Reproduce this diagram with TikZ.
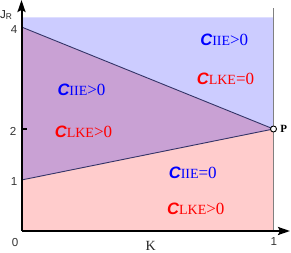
\documentclass[tikz,border=0pt]{standalone}
\usepackage{fontspec}
\setmainfont{Liberation Serif}
\newfontfamily\axisfont{Liberation Sans}
\usetikzlibrary{arrows.meta}
\definecolor{bluereg}{RGB}{204,204,255}
\definecolor{purpreg}{RGB}{201,161,212}
\definecolor{pinkreg}{RGB}{255,204,204}
\definecolor{bndline}{RGB}{51,51,102}
\definecolor{grayline}{RGB}{128,128,128}
\newcommand{\ccoef}[2]{{\axisfont\fontsize{16.5}{17}\selectfont\bfseries\itshape C}{\fontsize{14}{14}\selectfont #1}{\fontsize{17}{17}\selectfont #2}}
\tikzset{
  bnd/.style={draw=bndline, line width=0.9pt},
  axisline/.style={draw=black, line width=2pt, -{Stealth[length=12pt,width=8pt,inset=2pt]}},
  ticksty/.style={draw=black, line width=1.2pt},
  graysty/.style={draw=grayline, line width=1.6pt},
  numlab/.style={font=\axisfont\fontsize{11.6}{12}\selectfont, inner sep=0pt, text=black!80},
  bluelab/.style={text=blue, anchor=base, inner sep=0pt},
  redlab/.style={text=red, anchor=base, inner sep=0pt},
}
\begin{document}
\begin{tikzpicture}[x=252pt,y=51pt]
\useasboundingbox (-21.5pt,-22pt) rectangle (269.5pt,231pt);
\coordinate (O) at (0,0);
\coordinate (X1) at (1,0);
\coordinate (Y1) at (0,1);
\coordinate (Y2) at (0,2);
\coordinate (Y4) at (0,4);
\coordinate (P) at (1,2);
\coordinate (TL) at (0,4.19);
\coordinate (TR) at (1,4.19);
\coordinate (G) at (1,4.37);
\coordinate (Xend) at (268.5pt,0pt);
\coordinate (Yend) at (0pt,231pt);
\coordinate (T2) at ([xshift=5.5pt]Y2);
% regions
\fill[pinkreg] (O) -- (X1) -- (P) -- (Y1) -- cycle;
\fill[purpreg] (Y1) -- (P) -- (Y4) -- cycle;
\fill[bluereg] (Y4) -- (P) -- (TR) -- (TL) -- cycle;
\draw[bnd] (Y4) -- (P);
\draw[bnd] (Y1) -- (P);
\draw[graysty] (X1) -- (G);
% axes
\draw[axisline] (O) -- (Xend);
\draw[axisline] (O) -- (Yend);
\draw[ticksty] (Y2) -- (T2);
\node[circle, draw=black, line width=0.9pt, fill=white, inner sep=0pt, minimum size=6pt] (Pc) at (P) {};
% axis labels
\node[numlab] (l4) at (-7.3pt,201.8pt) {4};
\node[numlab] (l2) at (-8.5pt,100pt) {2};
\node[numlab] (l1) at (-7.5pt,49.7pt) {1};
\node[numlab] (l0) at (-6.3pt,-11.5pt) {0};
\node[numlab] (lx1) at (252.3pt,-11pt) {1};
\node[inner sep=0pt, font=\fontsize{14}{14}\selectfont, text=black!85] (lK) at (129.3pt,-14.8pt) {K};
\node[inner sep=0pt, font=\bfseries\fontsize{11}{11}\selectfont] (lP) at (262.2pt,102pt) {P};
\node[inner sep=0pt, anchor=base west, text=black!85] (lJ) at (-21.5pt,212.7pt) {\axisfont\fontsize{11.6}{12}\selectfont J\raisebox{-1pt}{\fontsize{8.4}{9}\selectfont R}};
% region labels
\node[bluelab] (lb1) at (60pt,135.5pt) {\ccoef{IIE}{>0}};
\node[redlab] (lr1) at (62pt,93.2pt) {\ccoef{LKE}{>0}};
\node[bluelab] (lb2) at (202.8pt,185.3pt) {\ccoef{IIE}{>0}};
\node[redlab] (lr2) at (204pt,146.7pt) {\ccoef{LKE}{=0}};
\node[bluelab] (lb3) at (171.3pt,52pt) {\ccoef{IIE}{=0}};
\node[redlab] (lr3) at (174.3pt,16pt) {\ccoef{LKE}{>0}};
\end{tikzpicture}
\end{document}
